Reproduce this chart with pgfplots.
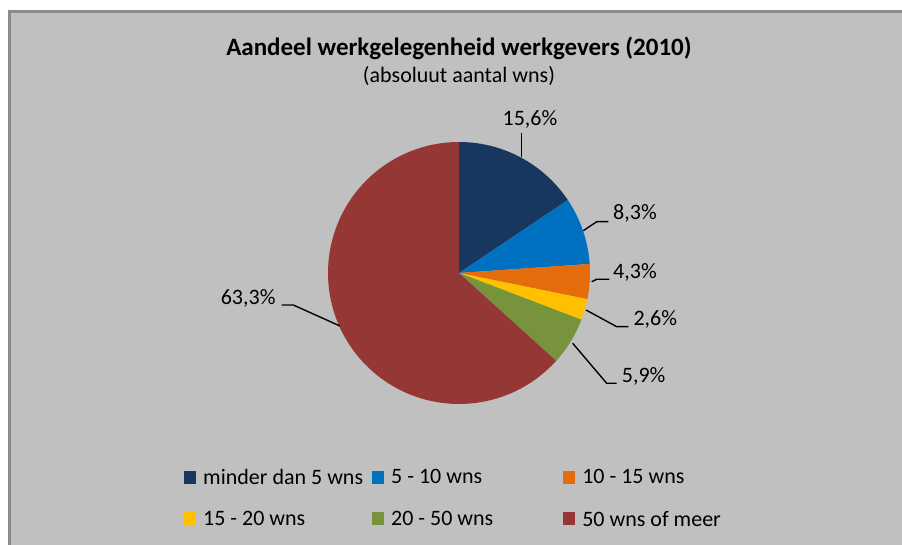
\documentclass[border=0pt]{standalone}
\usepackage{fontspec}
\setmainfont{Carlito}
\usepackage{pgfplots}
\pgfplotsset{compat=1.18}
\definecolor{cA}{HTML}{17375E}
\definecolor{cB}{HTML}{0070C0}
\definecolor{cC}{HTML}{E46C0A}
\definecolor{cD}{HTML}{FFC000}
\definecolor{cE}{HTML}{77933C}
\definecolor{cF}{HTML}{953735}
\definecolor{bg}{HTML}{C0C0C0}
\definecolor{bd}{HTML}{8C8C8C}
\newcommand{\lf}{\fontsize{22}{26}\selectfont}
\begin{document}
\begin{tikzpicture}[x=1pt,y=1pt]
\fill[white] (0,0) rectangle (902,545);
\fill[bg] (8,0) rectangle (902,535);
\fill[bd] (8,0) rectangle (11,535);
\fill[bd] (8,532) rectangle (902,535);
\begin{axis}[at={(0,0)}, anchor=south west, x=1pt, y=1pt,
  xmin=0, xmax=902, ymin=0, ymax=545, y dir=reverse,
  axis lines=none, clip=false,
  legend columns=3,
  legend cell align=left,
  legend image code/.code={\fill[#1,draw=none] (0pt,-6pt) rectangle (12pt,7pt);},
  legend style={at={(axis cs:181,465)}, anchor=north west, draw=none, fill=none,
    font=\lf, row sep=21pt,
    /tikz/column 1/.style={column sep=5pt},
    /tikz/column 2/.style={column sep=7pt},
    /tikz/column 3/.style={column sep=5pt},
    /tikz/column 4/.style={column sep=68pt},
    /tikz/column 5/.style={column sep=5pt}},
]
% shares (%): 15.6, 8.3, 4.3, 2.6, 5.9, 63.3 ; start at 12 o'clock, clockwise
\addplot[fill=cA, draw=none, domain={90-3.6*15.6}:90, samples=60, variable=\t]
  ({459+131*cos(t)},{273-131*sin(t)}) -- (axis cs:459,273) -- cycle;
\addlegendentry{minder dan 5 wns}
\addplot[fill=cB, draw=none, domain={90-3.6*(15.6+8.3)}:{90-3.6*15.6}, samples=40, variable=\t]
  ({459+131*cos(t)},{273-131*sin(t)}) -- (axis cs:459,273) -- cycle;
\addlegendentry{5 - 10 wns}
\addplot[fill=cC, draw=none, domain={90-3.6*(28.2)}:{90-3.6*(15.6+8.3)}, samples=30, variable=\t]
  ({459+131*cos(t)},{273-131*sin(t)}) -- (axis cs:459,273) -- cycle;
\addlegendentry{10 - 15 wns}
\addplot[fill=cD, draw=none, domain={90-3.6*(30.8)}:{90-3.6*(28.2)}, samples=20, variable=\t]
  ({459+131*cos(t)},{273-131*sin(t)}) -- (axis cs:459,273) -- cycle;
\addlegendentry{15 - 20 wns}
\addplot[fill=cE, draw=none, domain={90-3.6*(36.7)}:{90-3.6*(30.8)}, samples=30, variable=\t]
  ({459+131*cos(t)},{273-131*sin(t)}) -- (axis cs:459,273) -- cycle;
\addlegendentry{20 - 50 wns}
\addplot[fill=cF, draw=none, domain={90-3.6*(100)}:{90-3.6*(36.7)}, samples=150, variable=\t]
  ({459+131*cos(t)},{273-131*sin(t)}) -- (axis cs:459,273) -- cycle;
\addlegendentry{50 wns of meer}
% leader lines
\addplot[black, line width=1.4pt, forget plot] coordinates {(521.7,156.7) (521.7,133.3)};
\addplot[black, line width=1.4pt, forget plot] coordinates {(583.3,230.7) (596.7,221.7) (608.3,221.7)};
\addplot[black, line width=1.4pt, forget plot] coordinates {(591.7,281.7) (596.7,279.3) (609.3,279.3)};
\addplot[black, line width=1.4pt, forget plot] coordinates {(586,310) (616.7,326.7) (628.3,326.7)};
\addplot[black, line width=1.4pt, forget plot] coordinates {(572.7,343.3) (606.7,383.3) (616.7,383.3)};
\addplot[black, line width=1.4pt, forget plot] coordinates {(340,326) (293.3,305) (281.7,305)};
% labels
\node[anchor=base, inner sep=0pt, font=\lf] at (axis cs:530,126) {15,6\%};
\node[anchor=base west, inner sep=0pt, font=\lf] at (axis cs:613,220) {8,3\%};
\node[anchor=base west, inner sep=0pt, font=\lf] at (axis cs:613,278.3) {4,3\%};
\node[anchor=base west, inner sep=0pt, font=\lf] at (axis cs:633.3,326) {2,6\%};
\node[anchor=base west, inner sep=0pt, font=\lf] at (axis cs:621.7,382.7) {5,9\%};
\node[anchor=base east, inner sep=0pt, font=\lf] at (axis cs:275.7,305) {63,3\%};
% titles
\node[anchor=base, inner sep=0pt, font=\fontsize{25}{30}\selectfont\bfseries] at (axis cs:459,56) {Aandeel werkgelegenheid werkgevers (2010)};
\node[anchor=base, inner sep=0pt, font=\lf] at (axis cs:459,83) {(absoluut aantal wns)};
\end{axis}
\pgfresetboundingbox
\useasboundingbox (0,0) rectangle (902,545);
\end{tikzpicture}
\end{document}
